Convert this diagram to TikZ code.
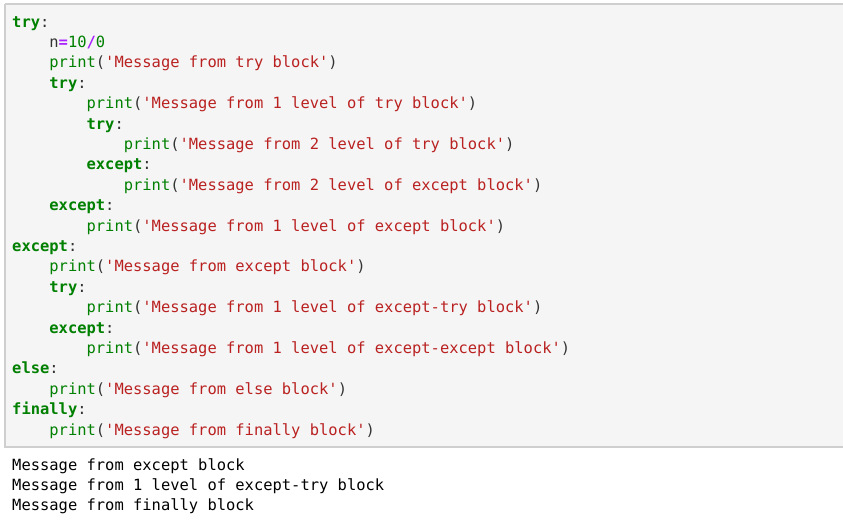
\documentclass[tikz,border=0pt]{standalone}
\usepackage{fontspec}
\setmonofont{DejaVu Sans Mono}
\definecolor{kw}{HTML}{008000}
\definecolor{st}{HTML}{BA2121}
\definecolor{op}{HTML}{AA22FF}
\definecolor{bg}{HTML}{F5F5F5}
\definecolor{bd}{HTML}{CFCFCF}
\definecolor{tx}{HTML}{333333}
\newcommand{\Kw}[1]{\textcolor{kw}{\textbf{#1}}}
\newcommand{\Sg}[1]{\textcolor{st}{#1}}
\newcommand{\Prt}{\textcolor{kw}{print}}
\newcommand{\Opr}[1]{\textcolor{op}{\textbf{#1}}}
\begin{document}
\begin{tikzpicture}[x=1pt,y=-1pt,
  code/.style={anchor=base west,inner sep=0pt,font=\ttfamily\fontsize{15.45}{18}\selectfont,text=tx}]
\useasboundingbox (0,0) rectangle (843,523);
\fill[bg] (5,4) rectangle (843,447);
\draw[bd,line width=1.2pt] (5,4) -- (843,4) (5,4) -- (5,447) -- (843,447);
\newcommand{\cl}[4]{\node[code] (#1) at ({12+9.3*#2},{27+20.4*#3}) {#4};}
\cl{l1}{0}{0}{\Kw{try}:}
\cl{l2}{4}{1}{n\Opr{=}\textcolor{kw}{10}\Opr{/}\textcolor{kw}{0}}
\cl{l3}{4}{2}{\Prt(\Sg{'Message from try block'})}
\cl{l4}{4}{3}{\Kw{try}:}
\cl{l5}{8}{4}{\Prt(\Sg{'Message from 1 level of try block'})}
\cl{l6}{8}{5}{\Kw{try}:}
\cl{l7}{12}{6}{\Prt(\Sg{'Message from 2 level of try block'})}
\cl{l8}{8}{7}{\Kw{except}:}
\cl{l9}{12}{8}{\Prt(\Sg{'Message from 2 level of except block'})}
\cl{l10}{4}{9}{\Kw{except}:}
\cl{l11}{8}{10}{\Prt(\Sg{'Message from 1 level of except block'})}
\cl{l12}{0}{11}{\Kw{except}:}
\cl{l13}{4}{12}{\Prt(\Sg{'Message from except block'})}
\cl{l14}{4}{13}{\Kw{try}:}
\cl{l15}{8}{14}{\Prt(\Sg{'Message from 1 level of except-try block'})}
\cl{l16}{4}{15}{\Kw{except}:}
\cl{l17}{8}{16}{\Prt(\Sg{'Message from 1 level of except-except block'})}
\cl{l18}{0}{17}{\Kw{else}:}
\cl{l19}{4}{18}{\Prt(\Sg{'Message from else block'})}
\cl{l20}{0}{19}{\Kw{finally}:}
\cl{l21}{4}{20}{\Prt(\Sg{'Message from finally block'})}
\node[code,text=black] (o1) at (12,470) {Message from except block};
\node[code,text=black] (o2) at (12,490.4) {Message from 1 level of except-try block};
\node[code,text=black] (o3) at (12,510.8) {Message from finally block};
\end{tikzpicture}
\end{document}
